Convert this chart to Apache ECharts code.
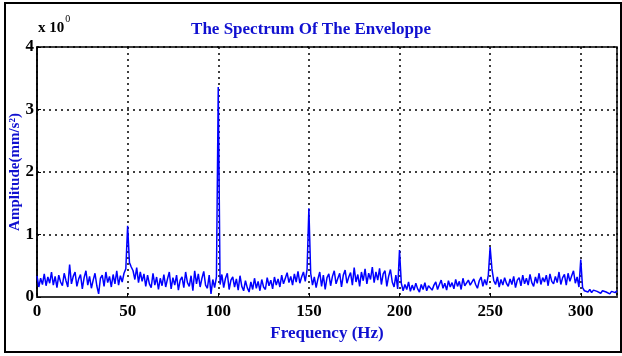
<!DOCTYPE html>
<html>
<head>
<meta charset="utf-8">
<script src="https://cdn.jsdelivr.net/npm/echarts@6/dist/echarts.min.js"></script>
<style>
  html, body { margin: 0; padding: 0; background: #fff; }
  #chart { width: 622px; height: 356px; }
</style>
</head>
<body>
<div id="chart"></div>
<script>
// frequency step of the spectrum (Hz)
var freqStep = 1;

// amplitude, one value per Hz from 0 to 320
var amplitude = [
  0.34,0.16,0.30,0.20,0.37,0.18,0.32,0.22,0.40,0.19,
  0.33,0.15,0.35,0.24,0.18,0.38,0.26,0.16,0.52,0.21,
  0.33,0.40,0.17,0.29,0.36,0.13,0.31,0.42,0.19,0.33,
  0.14,0.27,0.38,0.18,0.05,0.30,0.35,0.17,0.40,0.23,
  0.33,0.16,0.36,0.21,0.42,0.19,0.34,0.24,0.38,0.45,
  1.14,0.55,0.48,0.42,0.28,0.47,0.23,0.40,0.25,0.37,
  0.17,0.35,0.21,0.15,0.38,0.19,0.32,0.12,0.30,0.18,
  0.36,0.16,0.29,0.40,0.13,0.31,0.19,0.35,0.11,0.27,
  0.32,0.15,0.40,0.23,0.17,0.34,0.10,0.42,0.21,0.37,
  0.16,0.30,0.41,0.19,0.14,0.35,0.05,0.28,0.15,0.32,
  3.36,0.20,0.36,0.15,0.30,0.38,0.12,0.27,0.32,0.16,
  0.29,0.11,0.34,0.17,0.10,0.26,0.15,0.08,0.24,0.12,
  0.30,0.14,0.25,0.10,0.28,0.16,0.12,0.31,0.18,0.27,
  0.13,0.32,0.19,0.29,0.16,0.35,0.21,0.30,0.39,0.23,
  0.33,0.19,0.37,0.24,0.41,0.22,0.32,0.40,0.25,0.44,
  1.42,0.38,0.19,0.32,0.15,0.29,0.40,0.17,0.35,0.12,
  0.31,0.37,0.18,0.33,0.42,0.21,0.30,0.38,0.16,0.35,
  0.43,0.22,0.32,0.39,0.19,0.47,0.24,0.36,0.17,0.40,
  0.26,0.45,0.21,0.38,0.28,0.48,0.23,0.40,0.27,0.46,
  0.20,0.37,0.42,0.17,0.33,0.44,0.24,0.16,0.35,0.13,
  0.75,0.22,0.10,0.20,0.12,0.24,0.09,0.19,0.11,0.22,
  0.13,0.08,0.20,0.12,0.23,0.10,0.18,0.21,0.11,0.19,
  0.24,0.12,0.20,0.27,0.14,0.22,0.11,0.26,0.16,0.23,
  0.13,0.28,0.17,0.25,0.12,0.30,0.18,0.15,0.27,0.19,
  0.16,0.29,0.20,0.14,0.26,0.32,0.17,0.28,0.19,0.35,
  0.80,0.45,0.26,0.20,0.32,0.16,0.28,0.19,0.31,0.22,
  0.17,0.29,0.20,0.33,0.15,0.27,0.31,0.18,0.35,0.21,
  0.30,0.19,0.36,0.23,0.17,0.32,0.22,0.38,0.20,0.31,
  0.24,0.35,0.18,0.37,0.25,0.21,0.33,0.23,0.40,0.20,
  0.31,0.36,0.19,0.38,0.25,0.34,0.42,0.22,0.32,0.16,
  0.60,0.15,0.10,0.13,0.08,0.12,0.07,0.11,0.14,0.09,
  0.12,0.06,0.10,0.13,0.08,0.11,0.05,0.09,0.12,0.07,
  0.10
];

var xTicks = [0, 50, 100, 150, 200, 250, 300];
var yTicks = [0, 1, 2, 3, 4];

var points = [];
for (var i = 0; i < amplitude.length; i++) {
  points.push([i * freqStep, amplitude[i]]);
}

var blue = '#1010d0';
var serif = '"Liberation Serif", "DejaVu Serif", serif';

var chart = echarts.init(document.getElementById('chart'));

var option = {
  backgroundColor: '#fff',
  animation: false,
  title: {
    text: 'The Spectrum Of The Enveloppe',
    left: 'center',
    top: 16,
    textStyle: { color: blue, fontFamily: serif, fontWeight: 'bold', fontSize: 17 }
  },
  grid: {
    left: 37, right: 5, top: 47, bottom: 59,
    outerBoundsMode: 'none',
    containLabel: false,
    show: true, borderColor: '#000', borderWidth: 1.5
  },
  xAxis: {
    type: 'value',
    min: 0, max: 320, interval: 50,
    name: 'Frequency (Hz)',
    nameLocation: 'middle',
    nameGap: 27,
    nameTextStyle: { color: blue, fontFamily: serif, fontWeight: 'bold', fontSize: 17 },
    axisLine: { lineStyle: { color: '#333', width: 2 } },
    axisTick: { inside: true, length: 4, lineStyle: { color: '#000' } },
    axisLabel: {
      color: '#000', fontFamily: serif, fontWeight: 'bold', fontSize: 17, margin: 6,
      showMaxLabel: false,
      formatter: function (v) { return xTicks.indexOf(v) >= 0 ? v : ''; }
    },
    splitLine: { show: true, lineStyle: { color: '#000', type: [2, 4], width: 1.5 } }
  },
  yAxis: {
    type: 'value',
    min: 0, max: 4, interval: 1,
    name: 'Amplitude(mm/s²)',
    nameLocation: 'middle',
    nameGap: 14,
    nameMoveOverlap: false,
    nameTextStyle: { color: blue, fontFamily: serif, fontWeight: 'bold', fontSize: 15 },
    axisLine: { show: true, lineStyle: { color: '#000', width: 1.5 } },
    axisTick: { inside: true, length: 4, lineStyle: { color: '#000' } },
    axisLabel: {
      color: '#000', fontFamily: serif, fontWeight: 'bold', fontSize: 17, margin: 3,
      formatter: function (v) { return yTicks.indexOf(v) >= 0 ? v : ''; }
    },
    splitLine: { show: true, lineStyle: { color: '#000', type: [2, 4], width: 1.5 } }
  },
  graphic: [
    {
      type: 'rect',
      shape: { x: 5, y: 3, width: 616, height: 349 },
      style: { fill: 'none', stroke: '#000', lineWidth: 2 },
      silent: true
    },
    {
      type: 'text',
      left: 38, top: 14,
      style: {
        text: '{b|x 10}{s|0}',
        rich: {
          b: { fontFamily: serif, fontWeight: 'bold', fontSize: 15, fill: '#000', verticalAlign: 'bottom' },
          s: { fontFamily: serif, fontSize: 10, fill: '#000', padding: [0, 0, 12, 1] }
        }
      }
    }
  ],
  series: [{
    type: 'line',
    data: points,
    symbol: 'none',
    lineStyle: { color: '#0000ff', width: 1.5 },
    z: 3
  }]
};

chart.setOption(option);
</script>
</body>
</html>
